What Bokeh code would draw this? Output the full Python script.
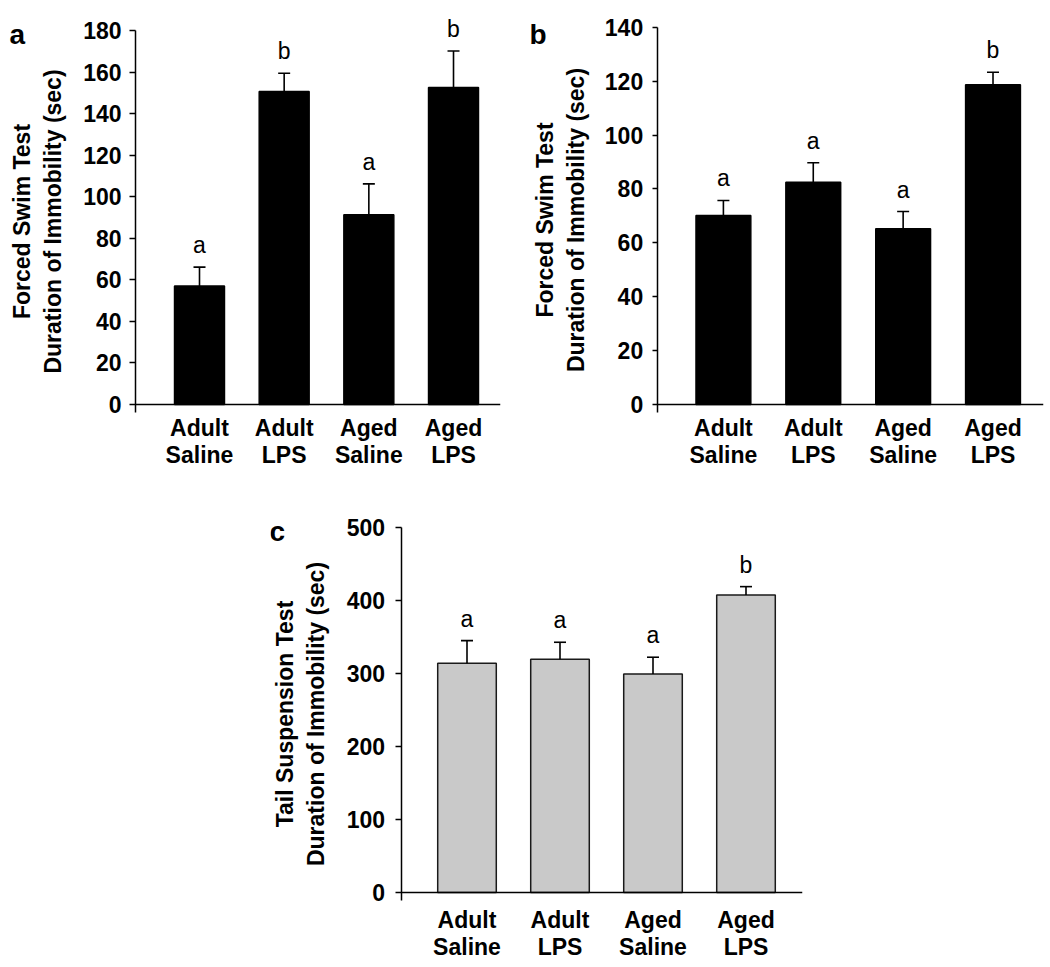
from bokeh.plotting import figure
from bokeh.models import (ColumnDataSource, Whisker, TeeHead, LabelSet, Label,
                          FixedTicker, Range1d, Spacer)
from bokeh.core.properties import value
from bokeh.layouts import column, row
from bokeh.embed import file_html
from bokeh.resources import INLINE

FONT = "Liberation Sans"

categories = ["Adult\nSaline", "Adult\nLPS", "Aged\nSaline", "Aged\nLPS"]

# Panel a: Forced swim test
a_mean = [57.0, 150.6, 91.3, 152.6]
a_err = [9.1, 8.8, 14.9, 17.5]
a_sig = ["a", "b", "a", "b"]
a_ticks = [0, 20, 40, 60, 80, 100, 120, 140, 160, 180]

# Panel b: Forced swim test
b_mean = [70.1, 82.5, 65.2, 118.6]
b_err = [5.6, 7.2, 6.4, 4.7]
b_sig = ["a", "a", "a", "b"]
b_ticks = [0, 20, 40, 60, 80, 100, 120, 140]

# Panel c: Tail suspension test
c_mean = [314.0, 319.6, 299.2, 407.5]
c_err = [31.0, 23.2, 23.1, 11.5]
c_sig = ["a", "a", "a", "b"]
c_ticks = [0, 100, 200, 300, 400, 500]

fsw_label = "Forced Swim Test\nDuration of Immobility (sec)"
tst_label = "Tail Suspension Test\nDuration of Immobility (sec)"


def make_panel(letter, means, errs, sig, ticks, ylabel, fill, outline, bar_w,
               page_left, page_top, page_right, fr_left, fr_top, fr_right, fr_bottom,
               axis_px, first_px, step_px, zero_px, top_tick_px, ext_px,
               tick_out, lab_standoff, axlab_standoff, xlab_standoff,
               letter_px, letter_base_px):
    xs = list(range(1, len(categories) + 1))
    # horizontal scale (pixel layout -> data units)
    x_start = 1 - (first_px - fr_left) / step_px
    x_end = 1 + (fr_right - first_px) / step_px
    x_axis = 1 - (first_px - axis_px) / step_px
    # vertical scale
    y_top = ticks[-1]
    ppu = (zero_px - top_tick_px) / y_top
    y_start = -(fr_bottom - zero_px) / ppu
    y_end = y_top + (top_tick_px - fr_top) / ppu
    y_axis_low = -ext_px / ppu

    p = figure(frame_width=int(round(fr_right - fr_left)),
               frame_height=int(round(fr_bottom - fr_top)),
               x_range=Range1d(x_start, x_end), y_range=Range1d(y_start, y_end),
               output_backend="svg", toolbar_location=None,
               min_border_left=int(round(fr_left - page_left)),
               min_border_right=int(round(page_right - fr_right)),
               min_border_top=int(round(fr_top - page_top)), min_border_bottom=1)
    p.outline_line_color = None
    p.xgrid.visible = False
    p.ygrid.visible = False

    src = ColumnDataSource(dict(x=xs, top=means,
                                upper=[m + e for m, e in zip(means, errs)], sig=sig))
    p.vbar(x="x", top="top", bottom=0, width=bar_w, source=src,
           fill_color=fill, line_color=outline, line_width=1.5)

    p.add_layout(Whisker(base="x", lower="top", upper="upper", source=src,
                         dimension="height", line_color="black", line_width=1.6,
                         upper_head=TeeHead(size=12, line_color="black", line_width=1.6),
                         lower_head=None, level="overlay"))

    p.add_layout(LabelSet(x="x", y="upper", text="sig", source=src, y_offset=14,
                          text_align="center", text_baseline="alphabetic",
                          text_font=value(FONT), text_font_size=value("23px"),
                          text_color="black"))

    # y axis, fixed at the left end of the x axis
    ya = p.yaxis[0]
    ya.fixed_location = x_axis
    ya.bounds = (y_axis_low, y_top)
    ya.ticker = FixedTicker(ticks=ticks)
    ya.minor_tick_line_color = None
    ya.major_tick_in = 0
    ya.major_tick_out = tick_out
    ya.major_tick_line_width = 1.5
    ya.axis_line_width = 1.5
    ya.axis_line_color = "black"
    ya.major_tick_line_color = "black"
    ya.major_label_text_font = FONT
    ya.major_label_text_font_style = "bold"
    ya.major_label_text_font_size = "23px"
    ya.major_label_text_color = "black"
    ya.major_label_standoff = lab_standoff
    ya.axis_label = ylabel
    ya.axis_label_text_font = FONT
    ya.axis_label_text_font_style = "bold"
    ya.axis_label_text_font_size = "23px"
    ya.axis_label_text_color = "black"
    ya.axis_label_standoff = axlab_standoff

    # x axis at zero, category labels only
    xa = p.xaxis[0]
    xa.fixed_location = 0
    xa.bounds = (x_axis, x_end)
    xa.ticker = FixedTicker(ticks=xs)
    xa.major_label_overrides = {x: c for x, c in zip(xs, categories)}
    xa.axis_line_color = "black"
    xa.axis_line_width = 1.5
    xa.major_tick_line_color = None
    xa.minor_tick_line_color = None
    xa.major_tick_in = 0
    xa.major_tick_out = 0
    xa.major_label_standoff = xlab_standoff
    xa.major_label_text_font = FONT
    xa.major_label_text_font_style = "bold"
    xa.major_label_text_font_size = "23px"
    xa.major_label_text_line_height = 1.06
    xa.major_label_text_color = "black"

    p.add_layout(Label(x=x_start, y=y_end, text=letter,
                       x_offset=letter_px - fr_left, y_offset=-(letter_base_px - fr_top),
                       text_align="left", text_baseline="alphabetic",
                       text_font=FONT, text_font_style="bold", text_font_size="28px",
                       text_color="black"))
    return p


# layout in screenshot pixels: figure box, frame box, y-axis x, first bar centre,
# bar spacing, y of zero, y of top tick, axis extension below zero
pa = make_panel("a", a_mean, a_err, a_sig, a_ticks, fsw_label, "black", "black", 0.59,
                0, 0, 528, 0, 10, 500, 469, 135, 199, 84.67, 404, 30, 8,
                6, 8, 14, 10, 9, 34)
pb = make_panel("b", b_mean, b_err, b_sig, b_ticks, fsw_label, "black", "black", 0.61,
                528, 0, 1044, 528, 10, 1043, 469, 656.7, 722.9, 89.87, 404, 26.7, 8,
                5, 9, 13, 10, 529, 34)
pc = make_panel("c", c_mean, c_err, c_sig, c_ticks, tst_label, "#c9c9c9", "#1a1a1a", 0.63,
                270, 470, 812, 270, 500, 802, 964, 400.5, 466.5, 93.0, 892, 527, 8,
                6, 10, 15, 14, 269, 531)

layout = column(row(pa, pb), row(Spacer(width=270, height=10), pc))

open("out.html", "w").write(file_html(layout, INLINE))
